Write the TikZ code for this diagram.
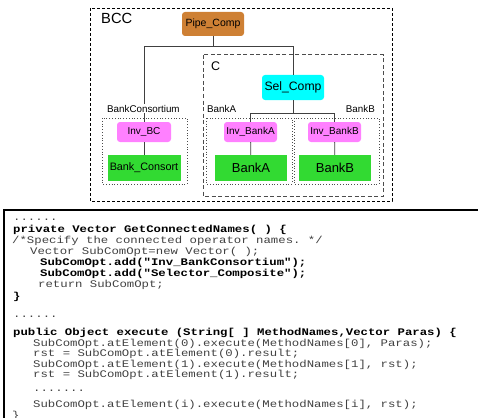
\documentclass[tikz,border=0pt]{standalone}
\usepackage{fontspec}
\setmainfont{Liberation Sans}
\setmonofont[FakeStretch=1.22]{Liberation Mono}
\usetikzlibrary{positioning}

\definecolor{pipeorange}{RGB}{206,128,52}
\definecolor{selcyan}{RGB}{0,255,255}
\definecolor{invpink}{RGB}{255,128,255}
\definecolor{bankgreen}{RGB}{50,218,50}

\tikzset{
    opbox/.style={rounded corners=3pt, inner sep=0pt, font=\fontsize{10}{12}\selectfont},
    bankbox/.style={fill=bankgreen, inner sep=0pt, minimum width=72pt, minimum height=26pt},
    link/.style={draw=black!75, line width=0.8pt},
    groupname/.style={anchor=base west, inner sep=1pt, fill=white, font=\fontsize{9.8}{12}\selectfont},
    code/.style={anchor=base west, inner sep=0pt, text=black!75, font=\ttfamily\fontsize{10.1}{11}\selectfont},
    codebf/.style={code, text=black, font=\ttfamily\bfseries\fontsize{10.1}{11}\selectfont},
}

\begin{document}
\begin{tikzpicture}[x=1pt,y=-1pt]
    \useasboundingbox (0,0) rectangle (478,417);

    % composite boundaries
    \draw[dashed, line width=0.8pt, dash pattern=on 3pt off 2pt] (90,8) rectangle (392,201);
    \draw[dashed, black!70, line width=1pt, dash pattern=on 4pt off 2.5pt] (203,55) rectangle (383,196);
    \node[anchor=base west, inner sep=0pt, font=\fontsize{14.7}{16}\selectfont] (bccname) at (101,24) {BCC};
    \node[anchor=base west, inner sep=0pt, font=\fontsize{12.5}{14}\selectfont] (cname) at (211,71) {C};

    \draw[dotted, black!70, line width=0.8pt] (102,118) rectangle (187,184);
    \draw[dotted, black!70, line width=0.8pt] (206,118) rectangle (292,184);
    \draw[dotted, black!70, line width=0.8pt] (294,118) rectangle (379,184);

    % operators
    \node[opbox, fill=pipeorange, minimum width=62pt, minimum height=24pt,
          font=\fontsize{10.5}{12}\selectfont] (pipe) at (213,24) {Pipe\_Comp};
    \node[opbox, fill=selcyan, minimum width=62pt, minimum height=25pt,
          font=\fontsize{12.2}{14}\selectfont] (sel) at (293,87.5) {Sel\_Comp};

    \node[opbox, fill=invpink, minimum width=54pt, minimum height=20pt] (invbc) at (144,132) {Inv\_BC};
    \node[opbox, fill=invpink, minimum width=53pt, minimum height=20pt] (inva) at (250.5,132) {Inv\_BankA};
    \node[opbox, fill=invpink, minimum width=53pt, minimum height=20pt] (invb) at (334.5,132) {Inv\_BankB};

    \node[bankbox, minimum width=73pt, font=\fontsize{10.8}{12}\selectfont] (bc) at (144,168) {Bank\_Consort};
    \node[bankbox, font=\fontsize{13}{14}\selectfont] (banka) at (251,168) {BankA};
    \node[bankbox, font=\fontsize{13}{14}\selectfont] (bankb) at (335,168) {BankB};

    % tree links
    \draw[link] (pipe.south) -- ++(0,10) coordinate (pj);
    \draw[link] (invbc.north) |- (pj) -| (sel.north);
    \draw[link] (sel.south) -- ++(0,13) coordinate (sj);
    \draw[link] (inva.north) |- (sj) -| (invb.north);
    \draw[link] (invbc) -- (bc);
    \draw[link] (inva) -- (banka);
    \draw[link] (invb) -- (bankb);

    % group names
    \node[groupname] (bcname) at (106,112) {BankConsortium};
    \node[groupname, fill=none] (aname) at (206,112) {BankA};
    \node[groupname, fill=none, anchor=base east] (bname) at (376,112) {BankB};

    % code listing
    \draw[line width=1.3pt] (4,430) -- (4,210) -- (490,210);

    \node[code] (c1) at (13,220) {......};
    \node[codebf] (c2) at (13,232) {private Vector GetConnectedNames( ) \{};
    \node[code] (c3) at (12,243) {/*Specify the connected operator names. */};
    \node[code] (c4) at (30,254) {Vector SubComOpt=new Vector( );};
    \node[codebf] (c5) at (40,265.5) {SubComOpt.add("Inv\_BankConsortium");};
    \node[codebf] (c6) at (40,276.5) {SubComOpt.add("Selector\_Composite");};
    \node[code] (c7) at (38,287) {return SubComOpt;};
    \node[codebf] (c8) at (13,299) {\}};
    \node[code] (c9) at (13,317) {......};
    \node[codebf] (c10) at (13,335) {public Object execute (String[ ] MethodNames,Vector Paras) \{};
    \node[code] (c11) at (33,346) {SubComOpt.atElement(0).execute(MethodNames[0], Paras);};
    \node[code] (c12) at (33,356) {rst = SubComOpt.atElement(0).result;};
    \node[code] (c13) at (33,367) {SubComOpt.atElement(1).execute(MethodNames[1], rst);};
    \node[code] (c14) at (33,377) {rst = SubComOpt.atElement(1).result;};
    \node[code] (c15) at (33,391) {.......};
    \node[code] (c16) at (33,407) {SubComOpt.atElement(i).execute(MethodNames[i], rst);};
    \node[code] (c17) at (12,418) {\}};
\end{tikzpicture}
\end{document}
